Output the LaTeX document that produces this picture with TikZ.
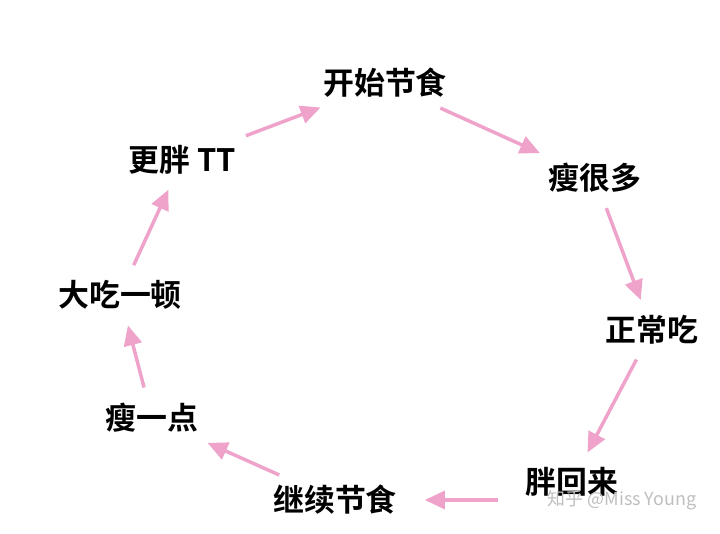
\documentclass[tikz,border=0pt]{standalone}
\usepackage{fontspec}
\newfontfamily\cjk{Noto Sans CJK SC}[BoldFont={Noto Sans CJK SC Bold}]
\usetikzlibrary{arrows.meta}
\definecolor{pinkarrow}{HTML}{EFA3CB}
\tikzset{
    stage/.style={font=\cjk\bfseries\fontsize{31}{34}\selectfont, inner sep=6pt},
    cycarrow/.style={pinkarrow, line width=3.5pt, -{Triangle[length=20pt, width=18pt]}, shorten <=#1, shorten >=#1},
    cycarrow/.default=10pt
}
\begin{document}
\begin{tikzpicture}[x=1bp, y=-1bp]
    \useasboundingbox[fill=white] (0, 0) rectangle (720, 534);
    % stages of the cycle
    \node[stage] (start) at (385, 83) {开始节食};
    \node[stage] (thin) at (595, 178) {瘦很多};
    \node[stage] (normal) at (652, 330) {正常吃};
    \node[stage] (back) at (572, 482) {胖回来};
    \node[stage] (again) at (335, 500) {继续节食};
    \node[stage] (little) at (152, 418) {瘦一点};
    \node[stage] (binge) at (120, 295) {大吃一顿};
    \node[stage] (fatter) at (182, 160) {更胖 TT};
    % watermark
    \node[font=\cjk\fontsize{18}{20}\selectfont, text=black!25] (mark) at (622, 500) {知乎 @Miss Young};
    % arrows
    \draw[cycarrow] (fatter) -- (start);
    \draw[cycarrow] (start) -- (thin);
    \draw[cycarrow] (thin) -- (normal);
    \draw[cycarrow] (normal) -- (back);
    \draw[cycarrow=22pt] (back.west |- again) -- (again);
    \draw[cycarrow] (again) -- (little);
    \draw[cycarrow] (little) -- (binge);
    \draw[cycarrow] (binge) -- (fatter);
\end{tikzpicture}
\end{document}
